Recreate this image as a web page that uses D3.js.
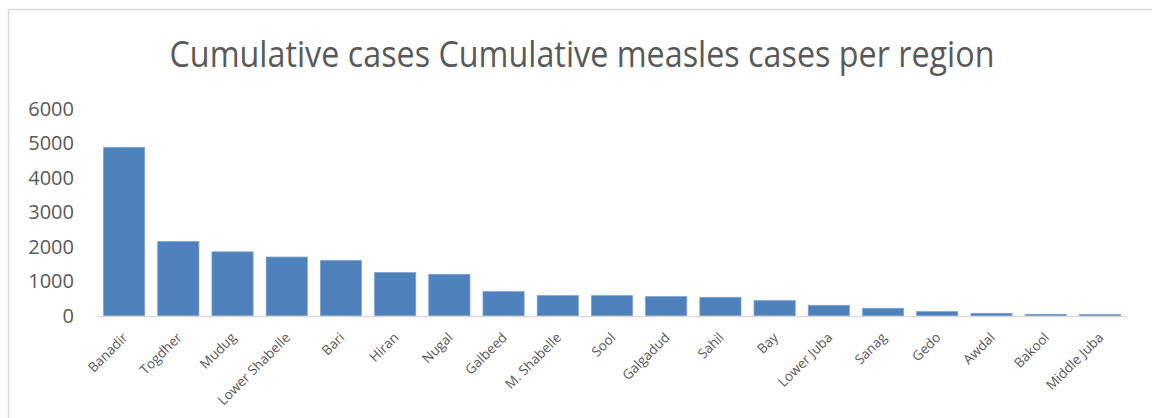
<!DOCTYPE html>
<html>
<head>
<meta charset="utf-8">
<script src="https://cdn.jsdelivr.net/npm/d3@7"></script>
<style>
  body { margin: 0; background: #fff; }
  text { font-family: "Open Sans", "Liberation Sans", sans-serif; fill: #595959; }
</style>
</head>
<body>
<div class="chart"></div>
<script>
// data
const regions = ['Banadir', 'Togdher', 'Mudug', 'Lower Shabelle', 'Bari', 'Hiran', 'Nugal',
  'Galbeed', 'M. Shabelle', 'Sool', 'Galgadud', 'Sahil', 'Bay', 'Lower Juba', 'Sanag',
  'Gedo', 'Awdal', 'Bakool', 'Middle Juba'];
const cases = [4890, 2160, 1860, 1710, 1610, 1260, 1210, 708, 592, 590, 563, 543, 447,
  311, 224, 128, 78, 49, 40];
const yTicks = [0, 1000, 2000, 3000, 4000, 5000, 6000];

const svg = d3.select('.chart')
  .append('svg')
    .attr('width', 1156)
    .attr('height', 418);

// chart frame (top + left edges visible)
svg.append('line')
  .attr('x1', 8.5).attr('y1', 9.5).attr('x2', 1152).attr('y2', 9.5)
  .attr('stroke', '#d9d9d9').attr('stroke-width', 1.5);
svg.append('line')
  .attr('x1', 8.5).attr('y1', 9.5).attr('x2', 8.5).attr('y2', 418)
  .attr('stroke', '#d9d9d9').attr('stroke-width', 1.5);

// title
svg.append('text')
  .attr('x', 582)
  .attr('y', 67)
  .attr('text-anchor', 'middle')
  .style('font-size', '36px')
  .attr('textLength', 825)
  .attr('lengthAdjust', 'spacingAndGlyphs')
  .text('Cumulative cases Cumulative measles cases per region');

//SCALES
const x = d3.scaleBand()
  .domain(regions)
  .range([97, 1127])
  .paddingInner(0.24)
  .paddingOuter(0.12);

const y = d3.scaleLinear()
  .domain([0, 6000])
  .range([316, 109]);

//y axis labels
const yAxis = svg.append('g')
  .attr('transform', 'translate(74,0)')
  .call(d3.axisLeft(y).tickValues(yTicks).tickFormat(d3.format('d')).tickSize(0).tickPadding(0));
yAxis.select('.domain').remove();
yAxis.selectAll('.tick text')
  .style('font-size', '20px')
  .attr('fill', '#595959');

//bars
svg.append('g')
  .selectAll('rect')
  .data(regions)
  .enter().append('rect')
    .attr('x', d => x(d))
    .attr('y', (d, i) => y(cases[i]))
    .attr('width', x.bandwidth())
    .attr('height', (d, i) => y(0) - y(cases[i]))
    .attr('fill', '#4f81bd')
    .attr('stroke', '#7ea1cf')
    .attr('stroke-width', 0.75);

//x axis line
svg.append('line')
  .attr('x1', 97).attr('x2', 1127)
  .attr('y1', 316.5).attr('y2', 316.5)
  .attr('stroke', '#d9d9d9')
  .attr('stroke-width', 1.5);

//x axis labels, rotated
svg.append('g')
  .selectAll('text')
  .data(regions)
  .enter().append('text')
    .attr('transform', d => `translate(${x(d) + x.bandwidth() / 2 + 1},${335}) rotate(-45)`)
    .attr('text-anchor', 'end')
    .attr('dy', '0.35em')
    .style('font-size', '13.5px')
    .text(d => d);
</script>
</body>
</html>
